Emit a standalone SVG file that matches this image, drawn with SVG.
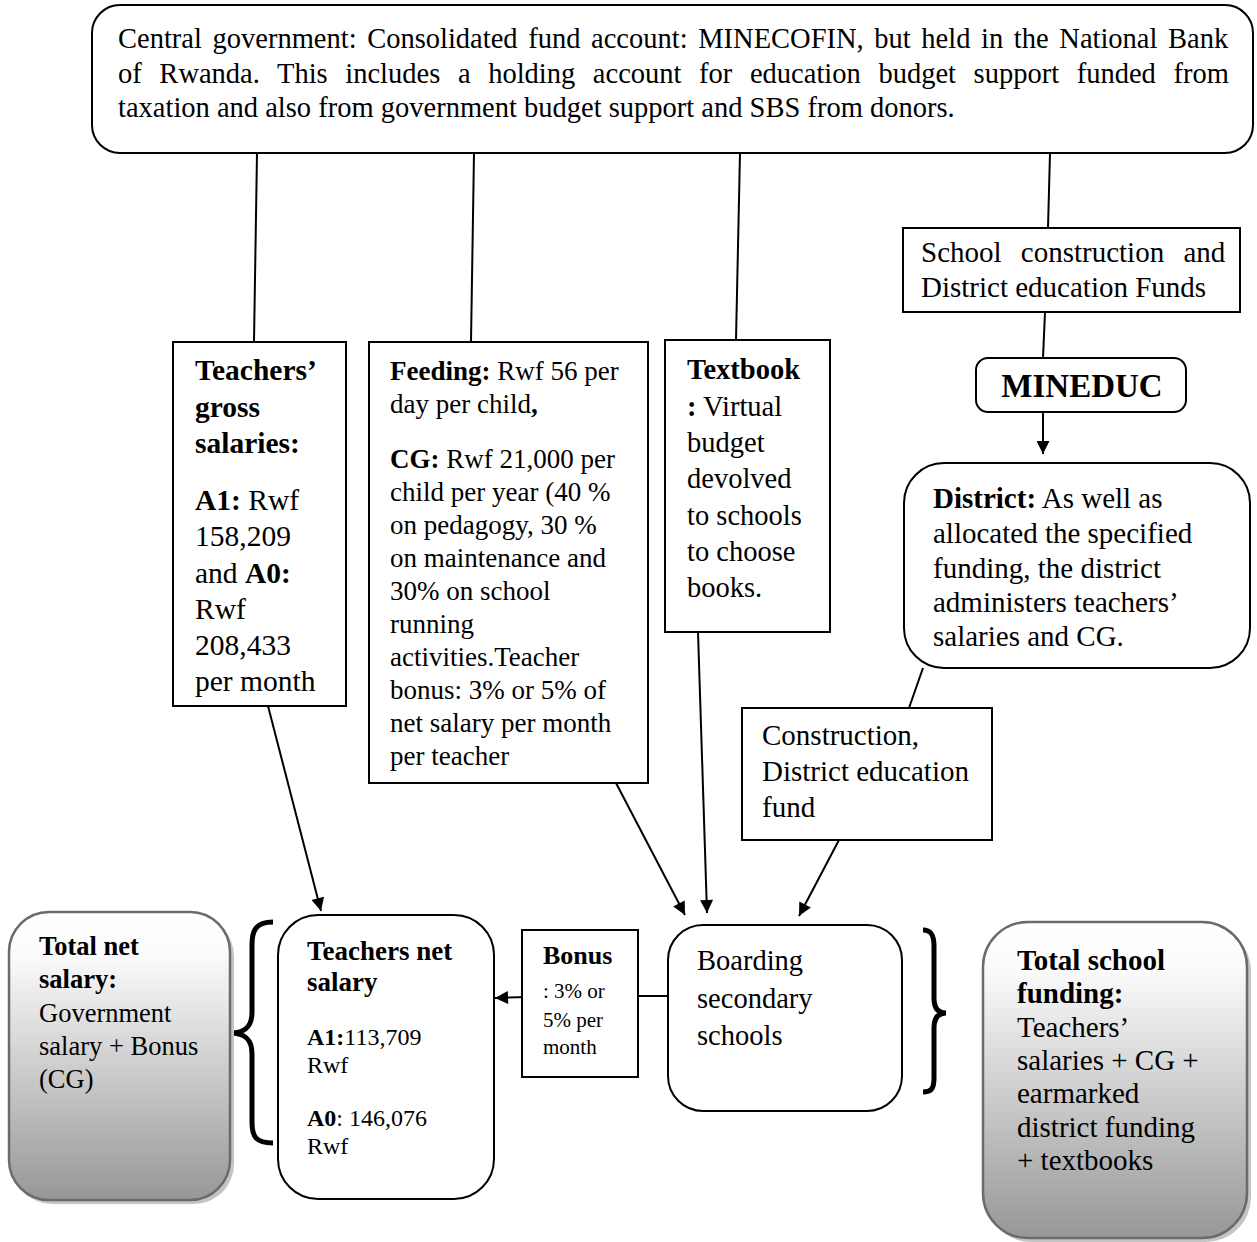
<svg xmlns="http://www.w3.org/2000/svg" width="1257" height="1242" viewBox="0 0 1257 1242">
<style>
text{font-family:"Liberation Serif","Times New Roman",serif;fill:#000}
.b{font-weight:bold}
.box{fill:#fff;stroke:#000;stroke-width:2}
.con{fill:none;stroke:#000;stroke-width:2}
.arr{fill:none;stroke:#000;stroke-width:2;marker-end:url(#ah)}
.brace{fill:none;stroke:#000;stroke-width:5;stroke-linecap:butt}
.gbox{fill:url(#grad);stroke:#6b6b6b;stroke-width:2.5}
.shadow{fill:#c4c4c4}
</style>
<defs>
<marker id="ah" viewBox="0 0 10 10" refX="10" refY="5" markerWidth="16" markerHeight="13" markerUnits="userSpaceOnUse" orient="auto">
<path d="M0,0 L10,5 L0,10 z" fill="#000"/>
</marker>
<linearGradient id="grad" x1="0" y1="0" x2="0" y2="1">
<stop offset="0" stop-color="#ffffff"/>
<stop offset="0.15" stop-color="#fbfbfb"/>
<stop offset="1" stop-color="#979797"/>
</linearGradient>
</defs>

<g id="connectors">
<line class="con" x1="257" y1="153" x2="254" y2="342"/>
<line class="con" x1="474" y1="153" x2="471" y2="342"/>
<line class="con" x1="740" y1="153" x2="736" y2="340"/>
<line class="con" x1="1050" y1="153" x2="1048" y2="228"/>
<line class="con" x1="1045" y1="312" x2="1043" y2="358"/>
<line class="arr" x1="1043" y1="412" x2="1043" y2="454"/>
<line class="con" x1="923" y1="668" x2="909" y2="708"/>
<line class="arr" x1="268" y1="706" x2="321" y2="911"/>
<line class="arr" x1="616" y1="783" x2="685" y2="915"/>
<line class="arr" x1="698" y1="632" x2="707" y2="913"/>
<line class="arr" x1="839" y1="840" x2="799" y2="916"/>
<line class="con" x1="668" y1="996" x2="638" y2="996"/>
<line class="arr" x1="528" y1="997" x2="495" y2="998"/>
<path class="brace" d="M273,922 C256,922 252,930 252,945 L252,1012 C252,1026 246,1033 230,1033 C246,1033 252,1040 252,1054 L252,1122 C252,1137 256,1143 273,1143"/>
<path class="brace" d="M923,930 C931,930 934,935 934,946 L934,998 C934,1008 938,1013 946,1013 C938,1013 934,1018 934,1028 L934,1078 C934,1089 931,1092 923,1092"/>
</g>

<g id="central">
<rect class="box" x="92" y="5" width="1161" height="148" rx="28"/>
<text x="118" y="48" style="font-size:28.5px;word-spacing:3.5px">Central government: Consolidated fund account: MINECOFIN, but held in the National Bank</text>
<text x="118" y="83" style="font-size:28.5px;word-spacing:10.5px">of Rwanda. This includes a holding account for education budget support funded from</text>
<text x="118" y="117" style="font-size:28.5px">taxation and also from government budget support and SBS from donors.</text>
</g>

<g id="teachers-gross">
<rect class="box" x="173" y="342" width="173" height="364"/>
<text x="195" style="font-size:29.5px"><tspan class="b" x="195" y="380">Teachers’</tspan><tspan class="b" x="195" y="417">gross</tspan><tspan class="b" x="195" y="453">salaries:</tspan><tspan x="195" y="510"><tspan class="b">A1:</tspan> Rwf</tspan><tspan x="195" y="546">158,209</tspan><tspan x="195" y="583">and <tspan class="b">A0:</tspan></tspan><tspan x="195" y="619">Rwf</tspan><tspan x="195" y="655">208,433</tspan><tspan x="195" y="691">per month</tspan></text>
</g>

<g id="feeding">
<rect class="box" x="369" y="342" width="279" height="441"/>
<text x="390" style="font-size:27px"><tspan x="390" y="380"><tspan class="b">Feeding:</tspan> Rwf 56 per</tspan><tspan x="390" y="413">day per child<tspan class="b">,</tspan></tspan><tspan x="390" y="468"><tspan class="b">CG:</tspan> Rwf 21,000 per</tspan><tspan x="390" y="501">child per year (40 %</tspan><tspan x="390" y="534">on pedagogy, 30 %</tspan><tspan x="390" y="567">on maintenance and</tspan><tspan x="390" y="600">30% on school</tspan><tspan x="390" y="633">running</tspan><tspan x="390" y="666">activities.Teacher</tspan><tspan x="390" y="699">bonus: 3% or 5% of</tspan><tspan x="390" y="732">net salary per month</tspan><tspan x="390" y="765">per teacher</tspan></text>
</g>

<g id="textbook">
<rect class="box" x="665" y="340" width="165" height="292"/>
<text x="687" style="font-size:28.5px"><tspan class="b" x="687" y="379">Textbook</tspan><tspan x="687" y="416"><tspan class="b">:</tspan> Virtual</tspan><tspan x="687" y="452">budget</tspan><tspan x="687" y="488">devolved</tspan><tspan x="687" y="525">to schools</tspan><tspan x="687" y="561">to choose</tspan><tspan x="687" y="597">books.</tspan></text>
</g>

<g id="school-construction">
<rect class="box" x="903" y="228" width="337" height="84"/>
<text x="921" y="262" style="font-size:29px;word-spacing:12px">School construction and</text>
<text x="921" y="297" style="font-size:29px">District education Funds</text>
</g>

<g id="mineduc">
<rect class="box" x="976" y="358" width="210" height="54" rx="12"/>
<text x="1082" y="397" text-anchor="middle" style="font-size:33px;font-weight:bold">MINEDUC</text>
</g>

<g id="district">
<rect class="box" x="904" y="463" width="346" height="205" rx="40"/>
<text x="933" style="font-size:29px"><tspan x="933" y="508"><tspan class="b">District:</tspan> As well as</tspan><tspan x="933" y="543">allocated the specified</tspan><tspan x="933" y="578">funding, the district</tspan><tspan x="933" y="612">administers teachers’</tspan><tspan x="933" y="646">salaries and CG.</tspan></text>
</g>

<g id="construction">
<rect class="box" x="742" y="708" width="250" height="132"/>
<text x="762" style="font-size:29px"><tspan x="762" y="745">Construction,</tspan><tspan x="762" y="781">District education</tspan><tspan x="762" y="817">fund</tspan></text>
</g>

<g id="boarding">
<rect class="box" x="668" y="925" width="234" height="186" rx="35"/>
<text x="697" style="font-size:28.5px"><tspan x="697" y="970">Boarding</tspan><tspan x="697" y="1008">secondary</tspan><tspan x="697" y="1045">schools</tspan></text>
</g>

<g id="bonus">
<rect class="box" x="522" y="930" width="116" height="147"/>
<text x="543" y="964" class="b" style="font-size:26px">Bonus</text>
<text x="543" style="font-size:21px"><tspan x="543" y="998">: 3% or</tspan><tspan x="543" y="1027">5% per</tspan><tspan x="543" y="1054">month</tspan></text>
</g>

<g id="teachers-net">
<rect class="box" x="278" y="915" width="216" height="284" rx="40"/>
<text x="307" style="font-size:27px"><tspan class="b" x="307" y="960">Teachers net</tspan><tspan class="b" x="307" y="991">salary</tspan></text>
<text x="307" style="font-size:24px"><tspan x="307" y="1045"><tspan class="b">A1:</tspan>113,709</tspan><tspan x="307" y="1073">Rwf</tspan><tspan x="307" y="1126"><tspan class="b">A0</tspan>: 146,076</tspan><tspan x="307" y="1154">Rwf</tspan></text>
</g>

<g id="total-net">
<rect class="shadow" x="12" y="916" width="222" height="288" rx="40"/>
<rect class="gbox" x="9" y="912" width="221" height="288" rx="40"/>
<text x="39" style="font-size:26.5px"><tspan class="b" x="39" y="955">Total net</tspan><tspan class="b" x="39" y="988">salary:</tspan><tspan x="39" y="1022">Government</tspan><tspan x="39" y="1055">salary + Bonus</tspan><tspan x="39" y="1088">(CG)</tspan></text>
</g>

<g id="total-school">
<rect class="shadow" x="986" y="926" width="265" height="316" rx="45"/>
<rect class="gbox" x="983" y="922" width="264" height="316" rx="45"/>
<text x="1017" style="font-size:29px"><tspan class="b" x="1017" y="970">Total school</tspan><tspan class="b" x="1017" y="1003">funding:</tspan><tspan x="1017" y="1037">Teachers’</tspan><tspan x="1017" y="1070">salaries + CG +</tspan><tspan x="1017" y="1103">earmarked</tspan><tspan x="1017" y="1137">district funding</tspan><tspan x="1017" y="1170">+ textbooks</tspan></text>
</g>
</svg>
